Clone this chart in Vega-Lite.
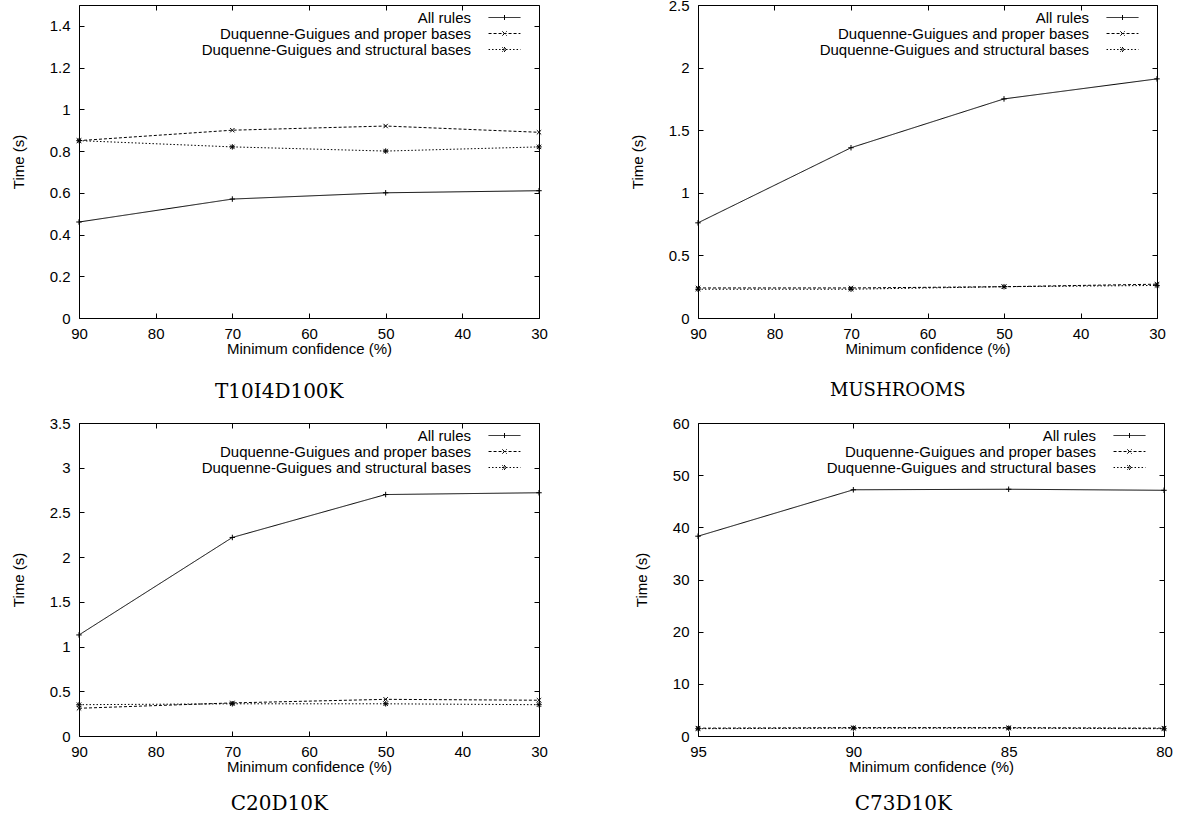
{
  "$schema": "https://vega.github.io/schema/vega-lite/v6.json",
  "background": "white",
  "padding": {"left": 10, "top": -3, "right": 5, "bottom": 5},
  "columns": 2,
  "spacing": {"row": 12, "column": 81},
  "datasets": {
    "t10": [
      {"conf": 90, "time": 0.46, "series": "All rules"},
      {"conf": 70, "time": 0.57, "series": "All rules"},
      {"conf": 50, "time": 0.60, "series": "All rules"},
      {"conf": 30, "time": 0.61, "series": "All rules"},
      {"conf": 90, "time": 0.85, "series": "Duquenne-Guigues and proper bases"},
      {"conf": 70, "time": 0.90, "series": "Duquenne-Guigues and proper bases"},
      {"conf": 50, "time": 0.92, "series": "Duquenne-Guigues and proper bases"},
      {"conf": 30, "time": 0.89, "series": "Duquenne-Guigues and proper bases"},
      {"conf": 90, "time": 0.85, "series": "Duquenne-Guigues and structural bases"},
      {"conf": 70, "time": 0.82, "series": "Duquenne-Guigues and structural bases"},
      {"conf": 50, "time": 0.80, "series": "Duquenne-Guigues and structural bases"},
      {"conf": 30, "time": 0.82, "series": "Duquenne-Guigues and structural bases"}
    ],
    "mush": [
      {"conf": 90, "time": 0.76, "series": "All rules"},
      {"conf": 70, "time": 1.36, "series": "All rules"},
      {"conf": 50, "time": 1.75, "series": "All rules"},
      {"conf": 30, "time": 1.91, "series": "All rules"},
      {"conf": 90, "time": 0.24, "series": "Duquenne-Guigues and proper bases"},
      {"conf": 70, "time": 0.24, "series": "Duquenne-Guigues and proper bases"},
      {"conf": 50, "time": 0.25, "series": "Duquenne-Guigues and proper bases"},
      {"conf": 30, "time": 0.27, "series": "Duquenne-Guigues and proper bases"},
      {"conf": 90, "time": 0.23, "series": "Duquenne-Guigues and structural bases"},
      {"conf": 70, "time": 0.23, "series": "Duquenne-Guigues and structural bases"},
      {"conf": 50, "time": 0.25, "series": "Duquenne-Guigues and structural bases"},
      {"conf": 30, "time": 0.26, "series": "Duquenne-Guigues and structural bases"}
    ],
    "c20": [
      {"conf": 90, "time": 1.13, "series": "All rules"},
      {"conf": 70, "time": 2.22, "series": "All rules"},
      {"conf": 50, "time": 2.70, "series": "All rules"},
      {"conf": 30, "time": 2.72, "series": "All rules"},
      {"conf": 90, "time": 0.31, "series": "Duquenne-Guigues and proper bases"},
      {"conf": 70, "time": 0.37, "series": "Duquenne-Guigues and proper bases"},
      {"conf": 50, "time": 0.41, "series": "Duquenne-Guigues and proper bases"},
      {"conf": 30, "time": 0.40, "series": "Duquenne-Guigues and proper bases"},
      {"conf": 90, "time": 0.35, "series": "Duquenne-Guigues and structural bases"},
      {"conf": 70, "time": 0.36, "series": "Duquenne-Guigues and structural bases"},
      {"conf": 50, "time": 0.36, "series": "Duquenne-Guigues and structural bases"},
      {"conf": 30, "time": 0.35, "series": "Duquenne-Guigues and structural bases"}
    ],
    "c73": [
      {"conf": 95, "time": 38.3, "series": "All rules"},
      {"conf": 90, "time": 47.2, "series": "All rules"},
      {"conf": 85, "time": 47.3, "series": "All rules"},
      {"conf": 80, "time": 47.1, "series": "All rules"},
      {"conf": 95, "time": 1.5, "series": "Duquenne-Guigues and proper bases"},
      {"conf": 90, "time": 1.6, "series": "Duquenne-Guigues and proper bases"},
      {"conf": 85, "time": 1.6, "series": "Duquenne-Guigues and proper bases"},
      {"conf": 80, "time": 1.5, "series": "Duquenne-Guigues and proper bases"},
      {"conf": 95, "time": 1.4, "series": "Duquenne-Guigues and structural bases"},
      {"conf": 90, "time": 1.5, "series": "Duquenne-Guigues and structural bases"},
      {"conf": 85, "time": 1.5, "series": "Duquenne-Guigues and structural bases"},
      {"conf": 80, "time": 1.4, "series": "Duquenne-Guigues and structural bases"}
    ]
  },
  "concat": [
    {
      "width": 460, "height": 313,
      "data": {"name": "t10"},
      "title": {"text": "T10I4D100K"},
      "layer": [
        {"mark": {"type": "line", "color": "black", "strokeWidth": 1},
         "encoding": {
           "x": {"field": "conf", "type": "quantitative", "scale": {"domain": [30, 90], "reverse": true, "nice": false, "zero": false}, "axis": {"orient": "bottom", "values": [30, 40, 50, 60, 70, 80, 90], "title": "Minimum confidence (%)"}},
           "y": {"field": "time", "type": "quantitative", "scale": {"domain": [0, 1.5], "nice": false}, "axis": {"orient": "left", "values": [0, 0.2, 0.4, 0.6, 0.8, 1, 1.2, 1.4], "title": "Time (s)"}},
           "strokeDash": {"field": "series", "type": "nominal", "sort": null, "scale": {"domain": ["All rules", "Duquenne-Guigues and proper bases", "Duquenne-Guigues and structural bases"], "range": [[1, 0], [3, 2], [1.5, 2]]},
             "legend": {"orient": "none", "legendX": 418, "legendY": 5, "encode": {"symbols": {"update": {"shape": {"signal": "datum.value === 'All rules' ? 'M-2.9,0H2.9M0,-0.45V0.45' : (datum.value === 'Duquenne-Guigues and proper bases' ? 'M-2.9,0H2.9M-0.4,-0.4L0.4,0.4M-0.4,0.4L0.4,-0.4' : 'M-2.9,0H2.9M-0.45,0H0.45M0,-0.45V0.45M-0.4,-0.4L0.4,0.4M-0.4,0.4L0.4,-0.4')"}}}}}}
         }},
        {"mark": {"type": "point", "filled": false, "color": "black", "strokeWidth": 1, "size": 30, "opacity": 1},
         "encoding": {
           "x": {"field": "conf", "type": "quantitative", "axis": {"orient": "top", "labels": false, "title": null, "values": [30, 40, 50, 60, 70, 80, 90]}},
           "y": {"field": "time", "type": "quantitative", "axis": {"orient": "right", "labels": false, "title": null, "values": [0, 0.2, 0.4, 0.6, 0.8, 1, 1.2, 1.4]}},
           "shape": {"field": "series", "type": "nominal", "sort": null, "scale": {"domain": ["All rules", "Duquenne-Guigues and proper bases", "Duquenne-Guigues and structural bases"], "range": ["M-1,0H1M0,-1V1", "M-0.8,-0.8L0.8,0.8M-0.8,0.8L0.8,-0.8", "M-1,0H1M0,-1V1M-0.8,-0.8L0.8,0.8M-0.8,0.8L0.8,-0.8"]}, "legend": null}
         }}
      ],
      "resolve": {"axis": {"x": "independent", "y": "independent"}, "scale": {"shape": "independent"}, "legend": {"shape": "independent", "strokeDash": "independent"}}
    },
    {
      "width": 459, "height": 313,
      "data": {"name": "mush"},
      "title": {"text": "MUSHROOMS", "fontSize": 18},
      "layer": [
        {"mark": {"type": "line", "color": "black", "strokeWidth": 1},
         "encoding": {
           "x": {"field": "conf", "type": "quantitative", "scale": {"domain": [30, 90], "reverse": true, "nice": false, "zero": false}, "axis": {"orient": "bottom", "values": [30, 40, 50, 60, 70, 80, 90], "title": "Minimum confidence (%)"}},
           "y": {"field": "time", "type": "quantitative", "scale": {"domain": [0, 2.5], "nice": false}, "axis": {"orient": "left", "values": [0, 0.5, 1, 1.5, 2, 2.5], "title": "Time (s)"}},
           "strokeDash": {"field": "series", "type": "nominal", "sort": null, "scale": {"domain": ["All rules", "Duquenne-Guigues and proper bases", "Duquenne-Guigues and structural bases"], "range": [[1, 0], [3, 2], [1.5, 2]]},
             "legend": {"orient": "none", "legendX": 417, "legendY": 5, "encode": {"symbols": {"update": {"shape": {"signal": "datum.value === 'All rules' ? 'M-2.9,0H2.9M0,-0.45V0.45' : (datum.value === 'Duquenne-Guigues and proper bases' ? 'M-2.9,0H2.9M-0.4,-0.4L0.4,0.4M-0.4,0.4L0.4,-0.4' : 'M-2.9,0H2.9M-0.45,0H0.45M0,-0.45V0.45M-0.4,-0.4L0.4,0.4M-0.4,0.4L0.4,-0.4')"}}}}}}
         }},
        {"mark": {"type": "point", "filled": false, "color": "black", "strokeWidth": 1, "size": 30, "opacity": 1},
         "encoding": {
           "x": {"field": "conf", "type": "quantitative", "axis": {"orient": "top", "labels": false, "title": null, "values": [30, 40, 50, 60, 70, 80, 90]}},
           "y": {"field": "time", "type": "quantitative", "axis": {"orient": "right", "labels": false, "title": null, "values": [0, 0.5, 1, 1.5, 2, 2.5]}},
           "shape": {"field": "series", "type": "nominal", "sort": null, "scale": {"domain": ["All rules", "Duquenne-Guigues and proper bases", "Duquenne-Guigues and structural bases"], "range": ["M-1,0H1M0,-1V1", "M-0.8,-0.8L0.8,0.8M-0.8,0.8L0.8,-0.8", "M-1,0H1M0,-1V1M-0.8,-0.8L0.8,0.8M-0.8,0.8L0.8,-0.8"]}, "legend": null}
         }}
      ],
      "resolve": {"axis": {"x": "independent", "y": "independent"}, "scale": {"shape": "independent"}, "legend": {"shape": "independent", "strokeDash": "independent"}}
    },
    {
      "width": 460, "height": 313,
      "data": {"name": "c20"},
      "title": {"text": "C20D10K", "offset": 20},
      "layer": [
        {"mark": {"type": "line", "color": "black", "strokeWidth": 1},
         "encoding": {
           "x": {"field": "conf", "type": "quantitative", "scale": {"domain": [30, 90], "reverse": true, "nice": false, "zero": false}, "axis": {"orient": "bottom", "values": [30, 40, 50, 60, 70, 80, 90], "title": "Minimum confidence (%)"}},
           "y": {"field": "time", "type": "quantitative", "scale": {"domain": [0, 3.5], "nice": false}, "axis": {"orient": "left", "values": [0, 0.5, 1, 1.5, 2, 2.5, 3, 3.5], "title": "Time (s)"}},
           "strokeDash": {"field": "series", "type": "nominal", "sort": null, "scale": {"domain": ["All rules", "Duquenne-Guigues and proper bases", "Duquenne-Guigues and structural bases"], "range": [[1, 0], [3, 2], [1.5, 2]]},
             "legend": {"orient": "none", "legendX": 418, "legendY": 5, "encode": {"symbols": {"update": {"shape": {"signal": "datum.value === 'All rules' ? 'M-2.9,0H2.9M0,-0.45V0.45' : (datum.value === 'Duquenne-Guigues and proper bases' ? 'M-2.9,0H2.9M-0.4,-0.4L0.4,0.4M-0.4,0.4L0.4,-0.4' : 'M-2.9,0H2.9M-0.45,0H0.45M0,-0.45V0.45M-0.4,-0.4L0.4,0.4M-0.4,0.4L0.4,-0.4')"}}}}}}
         }},
        {"mark": {"type": "point", "filled": false, "color": "black", "strokeWidth": 1, "size": 30, "opacity": 1},
         "encoding": {
           "x": {"field": "conf", "type": "quantitative", "axis": {"orient": "top", "labels": false, "title": null, "values": [30, 40, 50, 60, 70, 80, 90]}},
           "y": {"field": "time", "type": "quantitative", "axis": {"orient": "right", "labels": false, "title": null, "values": [0, 0.5, 1, 1.5, 2, 2.5, 3, 3.5]}},
           "shape": {"field": "series", "type": "nominal", "sort": null, "scale": {"domain": ["All rules", "Duquenne-Guigues and proper bases", "Duquenne-Guigues and structural bases"], "range": ["M-1,0H1M0,-1V1", "M-0.8,-0.8L0.8,0.8M-0.8,0.8L0.8,-0.8", "M-1,0H1M0,-1V1M-0.8,-0.8L0.8,0.8M-0.8,0.8L0.8,-0.8"]}, "legend": null}
         }}
      ],
      "resolve": {"axis": {"x": "independent", "y": "independent"}, "scale": {"shape": "independent"}, "legend": {"shape": "independent", "strokeDash": "independent"}}
    },
    {
      "width": 466, "height": 313,
      "data": {"name": "c73"},
      "title": {"text": "C73D10K", "offset": 20},
      "layer": [
        {"mark": {"type": "line", "color": "black", "strokeWidth": 1},
         "encoding": {
           "x": {"field": "conf", "type": "quantitative", "scale": {"domain": [80, 95], "reverse": true, "nice": false, "zero": false}, "axis": {"orient": "bottom", "values": [80, 85, 90, 95], "title": "Minimum confidence (%)"}},
           "y": {"field": "time", "type": "quantitative", "scale": {"domain": [0, 60], "nice": false}, "axis": {"orient": "left", "values": [0, 10, 20, 30, 40, 50, 60], "title": "Time (s)"}},
           "strokeDash": {"field": "series", "type": "nominal", "sort": null, "scale": {"domain": ["All rules", "Duquenne-Guigues and proper bases", "Duquenne-Guigues and structural bases"], "range": [[1, 0], [3, 2], [1.5, 2]]},
             "legend": {"orient": "none", "legendX": 424, "legendY": 5, "encode": {"symbols": {"update": {"shape": {"signal": "datum.value === 'All rules' ? 'M-2.9,0H2.9M0,-0.45V0.45' : (datum.value === 'Duquenne-Guigues and proper bases' ? 'M-2.9,0H2.9M-0.4,-0.4L0.4,0.4M-0.4,0.4L0.4,-0.4' : 'M-2.9,0H2.9M-0.45,0H0.45M0,-0.45V0.45M-0.4,-0.4L0.4,0.4M-0.4,0.4L0.4,-0.4')"}}}}}}
         }},
        {"mark": {"type": "point", "filled": false, "color": "black", "strokeWidth": 1, "size": 30, "opacity": 1},
         "encoding": {
           "x": {"field": "conf", "type": "quantitative", "axis": {"orient": "top", "labels": false, "title": null, "values": [80, 85, 90, 95]}},
           "y": {"field": "time", "type": "quantitative", "axis": {"orient": "right", "labels": false, "title": null, "values": [0, 10, 20, 30, 40, 50, 60]}},
           "shape": {"field": "series", "type": "nominal", "sort": null, "scale": {"domain": ["All rules", "Duquenne-Guigues and proper bases", "Duquenne-Guigues and structural bases"], "range": ["M-1,0H1M0,-1V1", "M-0.8,-0.8L0.8,0.8M-0.8,0.8L0.8,-0.8", "M-1,0H1M0,-1V1M-0.8,-0.8L0.8,0.8M-0.8,0.8L0.8,-0.8"]}, "legend": null}
         }}
      ],
      "resolve": {"axis": {"x": "independent", "y": "independent"}, "scale": {"shape": "independent"}, "legend": {"shape": "independent", "strokeDash": "independent"}}
    }
  ],
  "config": {
    "view": {"stroke": "black", "strokeWidth": 1},
    "title": {"orient": "bottom", "frame": "bounds", "anchor": "middle", "font": "DejaVu Serif", "fontSize": 20, "fontWeight": "normal", "color": "black", "offset": 26},
    "axis": {"domain": false, "grid": false, "ticks": true, "tickSize": -5, "tickColor": "black", "tickWidth": 1, "labelFont": "Liberation Sans", "labelFontSize": 15, "labelColor": "black", "labelFlush": false, "labelOverlap": false, "format": "~r", "titleFont": "Liberation Sans", "titleFontSize": 15, "titleFontWeight": "normal", "titleColor": "black"},
    "axisX": {"titlePadding": 0, "labelPadding": 13},
    "axisY": {"titlePadding": 23, "labelPadding": 14},
    "legend": {
      "title": null, "padding": 0,
      "labelFont": "Liberation Sans", "labelFontSize": 15, "labelColor": "black", "labelLimit": 0,
      "labelAlign": "right", "labelOffset": -41,
      "symbolType": "M-2.9,0H2.9", "symbolSize": 121, "symbolStrokeColor": "black", "symbolStrokeWidth": 1, "symbolFillColor": "transparent",
      "rowPadding": -3
    }
  }
}
